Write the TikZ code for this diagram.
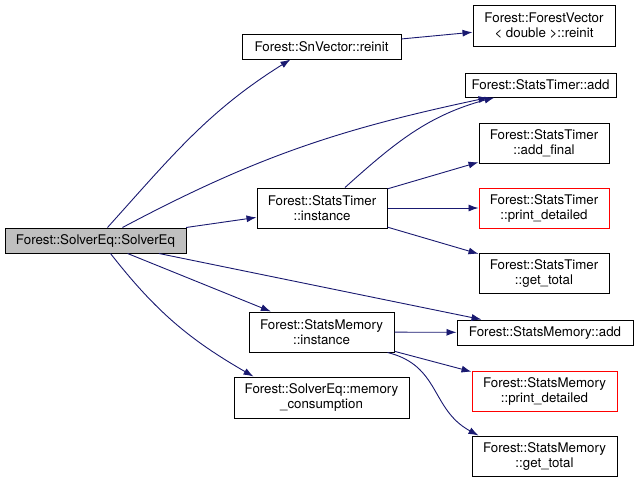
\documentclass[tikz,border=0pt]{standalone}
\usepackage{fontspec}
\setmainfont{TeX Gyre Heros}
\usepackage{tikz}
\usetikzlibrary{arrows.meta,positioning,calc}
\usepackage{xcolor}
\definecolor{edgeblue}{HTML}{191970}
\definecolor{mainfill}{HTML}{BFBFBF}

\begin{document}
\begin{tikzpicture}[
    x=1pt, y=-1pt,
    box/.style={draw, rectangle, line width=1pt, inner sep=0pt, align=center, font=\fontsize{13.3}{15}\selectfont},
    redbox/.style={box, draw=red},
    arrow/.style={-{Latex[length=10pt,width=7pt]}, draw=edgeblue, line width=0.9pt}
]
    \useasboundingbox (0,0) rectangle (637,483);

    \node[box, fill=mainfill, minimum width=181pt, minimum height=25pt] (solver) at (95.5,240.5) {Forest::SolverEq::SolverEq};
    \node[box, minimum width=159pt, minimum height=25pt] (snreinit) at (321.5,46.5) {Forest::SnVector::reinit};
    \node[box, minimum width=142pt, minimum height=41pt] (fvreinit) at (544,25.5) {Forest::ForestVector\\< double >::reinit};
    \node[box, minimum width=151pt, minimum height=24pt] (tadd) at (540.5,85) {Forest::StatsTimer::add};
    \node[box, minimum width=130pt, minimum height=40pt] (tinst) at (322,208) {Forest::StatsTimer\\::instance};
    \node[box, minimum width=130pt, minimum height=40pt] (tfinal) at (544,143) {Forest::StatsTimer\\::add\_final};
    \node[redbox, minimum width=130pt, minimum height=40pt] (tprint) at (544,208) {Forest::StatsTimer\\::print\_detailed};
    \node[box, minimum width=130pt, minimum height=40pt] (ttotal) at (544,273) {Forest::StatsTimer\\::get\_total};
    \node[box, minimum width=145pt, minimum height=40pt] (minst) at (321.5,332) {Forest::StatsMemory\\::instance};
    \node[box, minimum width=176pt, minimum height=25pt] (madd) at (545,332.5) {Forest::StatsMemory::add};
    \node[redbox, minimum width=145pt, minimum height=40pt] (mprint) at (544.5,391) {Forest::StatsMemory\\::print\_detailed};
    \node[box, minimum width=145pt, minimum height=40pt] (mtotal) at (544.5,456) {Forest::StatsMemory\\::get\_total};
    \node[box, minimum width=175pt, minimum height=41pt] (mcons) at (321.5,397.5) {Forest::SolverEq::memory\\\_consumption};

    % calls from the constructor
    \draw[arrow] ([xshift=12pt]solver.north) to[out=48,in=-148] ([xshift=-31pt]snreinit.south);
    \draw[arrow] ([xshift=27pt]solver.north) to[out=28,in=-168] ([xshift=-52pt]tadd.south);
    \draw[arrow] (solver) -- (tinst);
    \draw[arrow] (solver) -- (madd);
    \draw[arrow] (solver) -- (minst);
    \draw[arrow] ([xshift=15pt]solver.south) to[out=-52,in=150] ([xshift=-68pt]mcons.north);

    \draw[arrow] (snreinit) -- (fvreinit);

    % timer
    \draw[arrow] ([xshift=23pt]tinst.north) to[out=42,in=-165] ([xshift=-46pt]tadd.south);
    \draw[arrow] (tinst) -- (tfinal);
    \draw[arrow] (tinst) -- (tprint);
    \draw[arrow] (tinst) -- (ttotal);

    % memory
    \draw[arrow] (minst) -- (madd);
    \draw[arrow] (minst) -- (mprint);
    \draw[arrow] ([xshift=-7pt]minst.south east) .. controls +(53,13) and +(-48,-26) .. ([xshift=-66pt]mtotal.north);
\end{tikzpicture}
\end{document}
